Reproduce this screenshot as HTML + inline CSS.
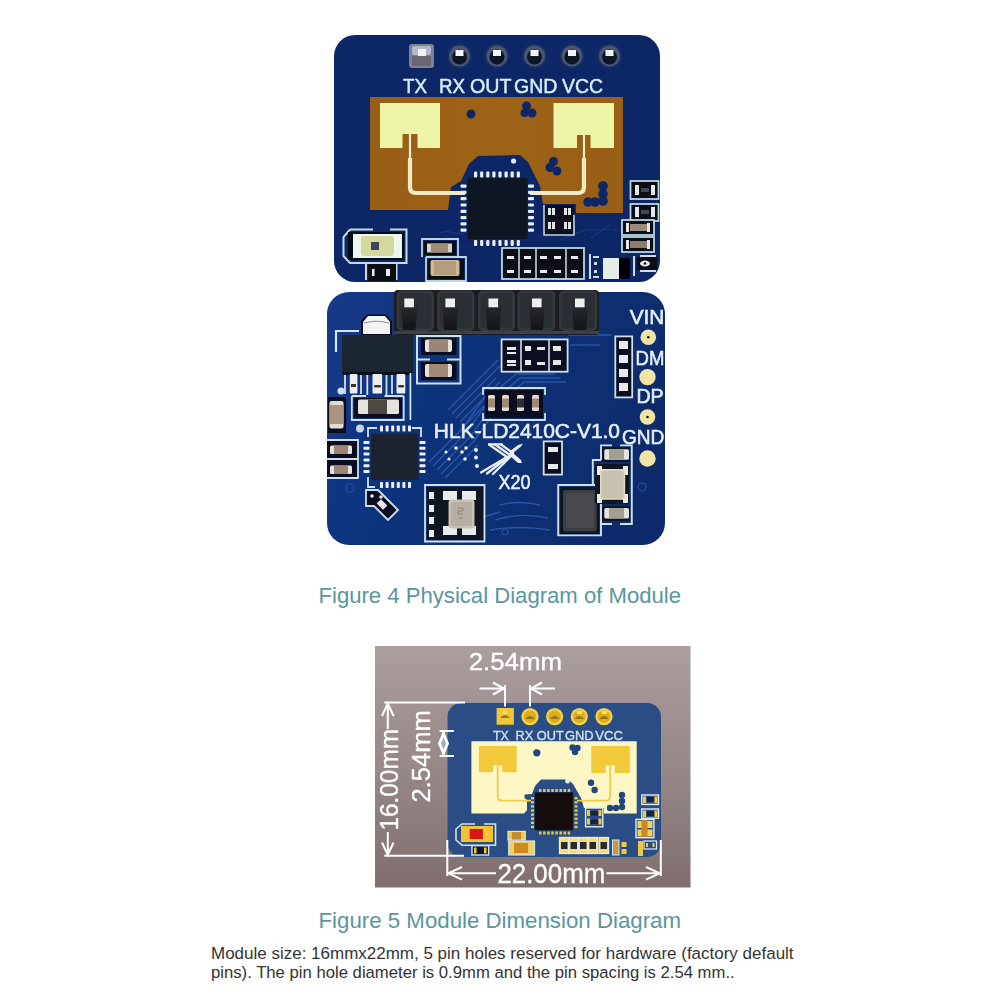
<!DOCTYPE html>
<html><head><meta charset="utf-8">
<style>
html,body{margin:0;padding:0;background:#fff;}
body{width:1002px;height:1002px;overflow:hidden;font-family:"Liberation Sans",sans-serif;}
svg{display:block;}
</style></head>
<body>
<svg width="1002" height="1002" viewBox="0 0 1002 1002" font-family="Liberation Sans, sans-serif">
<defs><filter id="soft" x="-5%" y="-5%" width="110%" height="110%"><feGaussianBlur stdDeviation="0.55"/></filter></defs>
<rect width="1002" height="1002" fill="#fff"/>
<g filter="url(#soft)">
<g id="top">
  <defs>
    <linearGradient id="gtop" x1="0" y1="0" x2="1" y2="1">
      <stop offset="0" stop-color="#0a2666"/>
      <stop offset="1" stop-color="#092565"/>
    </linearGradient>
    <linearGradient id="gor" x1="0" y1="0" x2="1" y2="0">
      <stop offset="0" stop-color="#985e14"/>
      <stop offset="0.5" stop-color="#9e6316"/>
      <stop offset="1" stop-color="#985e14"/>
    </linearGradient>
  </defs>
  <rect x="334" y="35" width="326" height="247" rx="21" fill="url(#gtop)"/>
  <!-- faint traces -->
  <g stroke="#1d3f8a" stroke-width="1.2" fill="none" opacity="0.8">
    <path d="M440,233 C450,228 458,238 466,232"/>
    <path d="M420,247 H470"/>
    <path d="M560,240 L585,230 H625"/>
    <path d="M590,238 L610,225"/>
  </g>
  <!-- header pins -->
  <g>
    <rect x="409" y="44" width="25" height="24" rx="3" fill="#7d8196"/>
    <rect x="412" y="46" width="19" height="9" rx="2" fill="#b4b8c6"/>
    <rect x="412" y="56" width="19" height="10" fill="#6d6670"/>
    <rect x="418" y="49" width="8" height="7" fill="#eef0f4"/>
    <g id="rp">
      <circle cx="459.5" cy="56" r="12.5" fill="#16306a"/>
      <circle cx="459.5" cy="56" r="10.5" fill="#4c5570"/>
      <circle cx="459.5" cy="57" r="7.5" fill="#0e1528"/>
      <rect x="455.5" y="50" width="8" height="6" fill="#f2f4f6"/>
    </g>
    <use href="#rp" x="37.5"/>
    <use href="#rp" x="75"/>
    <use href="#rp" x="112.5"/>
    <use href="#rp" x="150"/>
  </g>
  <!-- pin labels -->
  <g fill="#d6ecf3" font-size="20.5" stroke="#d6ecf3" stroke-width="0.5">
    <text x="403" y="93" textLength="24" lengthAdjust="spacingAndGlyphs">TX</text>
    <text x="439" y="93" textLength="26" lengthAdjust="spacingAndGlyphs">RX</text>
    <text x="470" y="93" textLength="41.5" lengthAdjust="spacingAndGlyphs">OUT</text>
    <text x="514" y="93" textLength="43.5" lengthAdjust="spacingAndGlyphs">GND</text>
    <text x="562" y="93" textLength="41" lengthAdjust="spacingAndGlyphs">VCC</text>
  </g>
  <!-- orange antenna region -->
  <path d="M370,97 H623 V213 H576 V204 H542 V210 H370 Z" fill="url(#gor)"/>
  <!-- blue cutout around chip -->
  <path d="M448,210 L451,187 L461,181 L469,164 L478,156 L520,155 L528,162 L535,176 L540,186 L543,204 L543,212 Z" fill="#0a2666"/>
  <!-- patch pads -->
  <path d="M380,103 H440 V148 H417.5 V134 H402.5 V148 H380 Z" fill="#eef5a6"/>
  <path d="M553.5,103 H614 V148 H590.5 V135 H577 V148 H553.5 Z" fill="#eef5a6"/>
  <!-- feed lines -->
  <g stroke="#f3eecb" stroke-width="2.2" fill="none">
    <path d="M410,134 V160"/>
    <path d="M584,135 V160"/>
  </g>
  <g stroke="#f1ebc4" stroke-width="4.2" fill="none">
    <path d="M410,158 V187 Q410,193 416,193 H465"/>
    <path d="M584,158 V187 Q584,193 578,193 H530"/>
  </g>
  <!-- vias -->
  <g fill="#0c2766">
    <circle cx="471" cy="114" r="4.5"/>
    <circle cx="526.5" cy="106" r="4.5"/><circle cx="532" cy="113" r="4.5"/><circle cx="524.5" cy="113" r="4"/>
    <circle cx="553.5" cy="161.5" r="4.5"/><circle cx="550" cy="167.5" r="4.5"/><circle cx="557" cy="171" r="4.5"/>
    <circle cx="603" cy="186" r="4.8"/><circle cx="603" cy="194" r="4.8"/><circle cx="603" cy="201" r="4.8"/><circle cx="595" cy="202" r="4.8"/><circle cx="588" cy="202" r="4.8"/>
  </g>
  <circle cx="513.6" cy="161" r="2.6" fill="#dfe8f0"/>
  <!-- main chip -->
  <rect x="467.5" y="178" width="60" height="61" fill="#0c1322"/>
  <g fill="#e8eef2">
    <g id="tp">
      <rect x="474" y="171.5" width="3.2" height="6" rx="1"/>
      <rect x="480.1" y="171.5" width="3.2" height="6" rx="1"/>
      <rect x="486.2" y="171.5" width="3.2" height="6" rx="1"/>
      <rect x="492.3" y="171.5" width="3.2" height="6" rx="1"/>
      <rect x="498.4" y="171.5" width="3.2" height="6" rx="1"/>
      <rect x="504.5" y="171.5" width="3.2" height="6" rx="1"/>
      <rect x="510.6" y="171.5" width="3.2" height="6" rx="1"/>
      <rect x="516.7" y="171.5" width="3.2" height="6" rx="1"/>
    </g>
    <use href="#tp" y="68.5"/>
    <g id="lp">
      <rect x="460.5" y="184.5" width="6" height="3.2" rx="1"/>
      <rect x="460.5" y="190.8" width="6" height="3.2" rx="1"/>
      <rect x="460.5" y="197.1" width="6" height="3.2" rx="1"/>
      <rect x="460.5" y="203.4" width="6" height="3.2" rx="1"/>
      <rect x="460.5" y="209.7" width="6" height="3.2" rx="1"/>
      <rect x="460.5" y="216" width="6" height="3.2" rx="1"/>
      <rect x="460.5" y="222.3" width="6" height="3.2" rx="1"/>
      <rect x="460.5" y="228.6" width="6" height="3.2" rx="1"/>
    </g>
    <use href="#lp" x="67.5"/>
  </g>
  <!-- small 4-pad chip under orange notch -->
  <rect x="544" y="205" width="30" height="30" fill="#070c1a"/>
  <path d="M544,205 V235 H574 V215" stroke="#bcd6e2" stroke-width="1.6" fill="none"/>
  <g fill="#dfe6ea">
    <rect x="548" y="208" width="3" height="7"/><rect x="552" y="208" width="3" height="7"/>
    <rect x="564" y="208" width="3" height="7"/><rect x="568" y="208" width="3" height="7"/>
    <rect x="548" y="222" width="3" height="7"/><rect x="552" y="222" width="3" height="7"/>
    <rect x="564" y="222" width="3" height="7"/><rect x="568" y="222" width="3" height="7"/>
  </g>
  <!-- LED -->
  <path d="M350,229.5 H373 M390,229.5 H406.5 V263 H350 L343.5,256 V237 L350,229.5 M366,263 V280 M396.5,263 V280" stroke="#c7dbe6" stroke-width="2" fill="none"/>
  <rect x="368" y="264" width="28" height="17" fill="#070b18"/>
  <rect x="372" y="269" width="2.5" height="7" fill="#e6ecef"/><rect x="386" y="269" width="4" height="7" fill="#e6ecef"/>
  <rect x="348" y="232" width="56" height="28" fill="#050816"/>
  <rect x="353" y="234" width="49" height="24" fill="#eef4ee"/>
  <rect x="361" y="236" width="33" height="20" rx="3" fill="#d4d79e"/>
  <rect x="371" y="242" width="8" height="8" fill="#3b4656"/>
  <!-- caps bottom-middle -->
  <path d="M422,257 V239 H458 V257 M426,257 V281 H466 V257 H426" stroke="#bcd6e2" stroke-width="1.8" fill="none"/>
  <rect x="424" y="241" width="32" height="14" fill="#070b18"/>
  <rect x="427" y="243.5" width="25" height="9" fill="#d8d4c8"/>
  <rect x="431" y="243.5" width="17" height="9" fill="#a08a78"/>
  <rect x="428" y="259" width="36" height="20" fill="#070b18"/>
  <rect x="430.5" y="260" width="29" height="16" rx="2" fill="#cdb79c"/>
  <rect x="434" y="261" width="22" height="14" fill="#b39b7e"/>
  <!-- bottom row component group -->
  <rect x="502" y="248" width="82" height="31" fill="#070b18" stroke="#bcd6e2" stroke-width="1.8"/>
  <path d="M519,248 V279 M536,248 V279 M566,248 V279" stroke="#bcd6e2" stroke-width="1.6"/>
  <g fill="#e6ecef">
    <rect x="507" y="256" width="7" height="3"/><rect x="507" y="270" width="7" height="3"/>
    <rect x="524" y="256" width="7" height="3"/><rect x="524" y="270" width="7" height="3"/>
    <rect x="540" y="256" width="7" height="3"/><rect x="540" y="270" width="7" height="3"/>
    <rect x="554" y="256" width="7" height="3"/><rect x="554" y="270" width="7" height="3"/>
    <rect x="571" y="256" width="7" height="3"/><rect x="571" y="270" width="7" height="3"/>
  </g>
  <!-- right side components -->
  <g stroke="#bcd6e2" stroke-width="1.8" fill="#070b18">
    <rect x="630.5" y="181" width="28" height="18"/>
    <rect x="630.5" y="204" width="28" height="17"/>
    <rect x="622" y="220" width="32" height="15"/>
    <rect x="622" y="237" width="32" height="15"/>
  </g>
  <g fill="#e2e8ec">
    <rect x="635" y="185" width="4" height="10"/><rect x="651" y="185" width="4" height="10"/>
    <rect x="635" y="207" width="4" height="10"/><rect x="651" y="207" width="4" height="10"/>
    <rect x="626" y="223" width="3" height="9"/><rect x="647" y="223" width="3" height="9"/>
    <rect x="626" y="240" width="3" height="9"/><rect x="647" y="240" width="3" height="9"/>
  </g>
  <rect x="630" y="224" width="17" height="7" fill="#9f8c78"/>
  <rect x="630" y="241" width="17" height="7" fill="#8f7d6c"/>
  <rect x="641" y="188" width="8" height="4" fill="#3a4a5a"/>
  <rect x="641" y="210" width="8" height="4" fill="#3a4a5a"/>
  <!-- bottom right -->
  <rect x="603" y="258" width="16" height="21" fill="#e4ede8"/>
  <rect x="619" y="258" width="11" height="21" fill="#04060e"/>
  <g fill="#cfdde6">
    <rect x="589" y="254" width="2" height="25"/>
    <rect x="593" y="256" width="6" height="2"/><rect x="593" y="276" width="6" height="2"/>
    <rect x="594" y="262" width="3" height="3"/><rect x="594" y="270" width="3" height="3"/>
    <rect x="633" y="256" width="2" height="20"/>
    <rect x="640" y="255" width="16" height="2"/><rect x="640" y="270" width="16" height="2"/>
  </g>
  <rect x="637" y="257" width="20" height="13" fill="#070b18"/>
  <ellipse cx="645" cy="263.5" rx="5" ry="3" fill="#e6ecef"/>
  <circle cx="645" cy="263.5" r="1.3" fill="#0a0f1e"/>
</g>

<g id="bot">
  <defs>
    <linearGradient id="gbot" x1="0" y1="0" x2="1" y2="0.3">
      <stop offset="0" stop-color="#13398a"/>
      <stop offset="0.5" stop-color="#0f3279"/>
      <stop offset="1" stop-color="#0c2c6c"/>
    </linearGradient>
  </defs>
  <rect x="327" y="292" width="338" height="253" rx="22" fill="url(#gbot)"/>
  <!-- traces -->
  <g stroke="#2d5cb0" stroke-width="1.3" fill="none" opacity="0.9">
    <path d="M437,470 L470,437 L500,395 L520,378 L560,378"/>
    <path d="M441,474 L474,441 L504,399 L524,382 L566,382"/>
    <path d="M433,466 L466,433 L496,391 L516,374 L555,374"/>
    <path d="M445,478 L478,445"/>
    <path d="M429,462 L462,429 L492,387"/>
    <path d="M448,410 L488,370 L498,360"/>
    <path d="M452,414 L492,374 L502,364"/>
    <path d="M456,418 L496,378"/>
    <path d="M460,422 L500,382"/>
    <path d="M464,426 L484,406"/>
    <path d="M570,345 L600,345"/>
    <path d="M568,335 L612,335"/>
    <path d="M432,536 Q470,520 500,512"/>
    <path d="M500,505 Q520,500 540,505"/>
    <path d="M495,520 Q520,512 548,518"/>
    <path d="M490,530 Q520,525 550,530"/>
  </g>
  <g stroke="#2d5cb0" stroke-width="1.2" fill="none" opacity="0.7">
    <circle cx="642" cy="487" r="4"/>
    <circle cx="350" cy="488" r="4"/>
    <circle cx="505" cy="532" r="3"/>
  </g>
  <!-- header -->
  <defs>
    <linearGradient id="ghd" x1="0" y1="0" x2="0" y2="1">
      <stop offset="0" stop-color="#111215" stop-opacity="0.2"/>
      <stop offset="1" stop-color="#111215" stop-opacity="0.95"/>
    </linearGradient>
  </defs>
  <rect x="394" y="290" width="205" height="45" rx="4" fill="#1a1c20"/>
  <rect x="396.6" y="290.5" width="37.4" height="40.5" rx="5" fill="#34373c"/>
  <rect x="399.1" y="293" width="32.4" height="35.5" rx="4" fill="#2c2f34"/>
  <path d="M401.3,307 H417.3 L415.3,330 H403.3 Z" fill="url(#ghd)"/>
  <rect x="404.3" y="298.5" width="9.6" height="8.8" fill="#eceef0"/>
  <rect x="437.2" y="290.5" width="37.3" height="40.5" rx="5" fill="#34373c"/>
  <rect x="439.7" y="293" width="32.3" height="35.5" rx="4" fill="#2c2f34"/>
  <path d="M442.4,307 H458.4 L456.4,330 H444.4 Z" fill="url(#ghd)"/>
  <rect x="445.4" y="298.5" width="9.6" height="8.8" fill="#eceef0"/>
  <rect x="478" y="290.5" width="37.0" height="40.5" rx="5" fill="#34373c"/>
  <rect x="480.5" y="293" width="32.0" height="35.5" rx="4" fill="#2c2f34"/>
  <path d="M485.5,307 H501.5 L499.5,330 H487.5 Z" fill="url(#ghd)"/>
  <rect x="488.5" y="298.5" width="9.6" height="8.8" fill="#eceef0"/>
  <rect x="517.5" y="290.5" width="37.8" height="40.5" rx="5" fill="#34373c"/>
  <rect x="520.0" y="293" width="32.8" height="35.5" rx="4" fill="#2c2f34"/>
  <path d="M529,307 H545 L543,330 H531 Z" fill="url(#ghd)"/>
  <rect x="532" y="298.5" width="9.6" height="8.8" fill="#eceef0"/>
  <rect x="558.9" y="290.5" width="38.3" height="40.5" rx="5" fill="#34373c"/>
  <rect x="561.4" y="293" width="33.3" height="35.5" rx="4" fill="#2c2f34"/>
  <path d="M572,307 H588 L586,330 H574 Z" fill="url(#ghd)"/>
  <rect x="575" y="298.5" width="9.6" height="8.8" fill="#eceef0"/>
  <rect x="394" y="331" width="205" height="3" fill="#3c3f44"/>
  <!-- regulator -->
  <path d="M336,352 V331 H359" stroke="#d2e4ec" stroke-width="2.2" fill="none"/>
  <path d="M361,335 V321 L367,314.5 H386 L392,321 V335 Z" fill="#0a0f1c"/>
  <path d="M363,334 V322 L368,316 H385 L390,322 V334 Z" fill="#f4f4f4"/>
  <path d="M364,323 Q376,319.5 389,323" stroke="#9a928e" stroke-width="1.2" fill="none"/>
  <rect x="342" y="335" width="71" height="38" fill="#1e2630"/>
  <rect x="343" y="372" width="69" height="3" fill="#0a0f1c"/>
  <g fill="#eceef0">
    <rect x="349.8" y="374" width="7.6" height="19.5" rx="1"/>
    <rect x="372.5" y="374" width="9.6" height="19.5" rx="1"/>
    <rect x="396.5" y="374" width="8.8" height="19.5" rx="1"/>
  </g>
  <g fill="#3a3430">
    <rect x="351" y="384" width="5" height="3"/>
    <rect x="374" y="385" width="7" height="2.5" rx="1"/>
    <rect x="398" y="385" width="6" height="2.5" rx="1"/>
  </g>
  <path d="M345,375 V394 M361,375 V394 M367.3,375 V395 M386.5,375 V395 M392,375 V394 M410.4,373 V420" stroke="#d2e2ea" stroke-width="1.8"/>
  <!-- caps right of regulator -->
  <rect x="417" y="336" width="43.5" height="47.5" fill="none" stroke="#cfe0ea" stroke-width="2"/>
  <rect x="421" y="338" width="35.5" height="17" fill="#0a1022"/>
  <rect x="421" y="362" width="35.5" height="18" fill="#0a1022"/>
  <path d="M417,359.5 H430 M447,359.5 H460.5" stroke="#cfe0ea" stroke-width="2"/>
  <rect x="425" y="339.5" width="27" height="12.5" rx="2" fill="#e6e2da"/>
  <rect x="429" y="339.5" width="19" height="12.5" fill="#9a8676"/>
  <rect x="425" y="364" width="27" height="13" rx="2" fill="#e6e2da"/>
  <rect x="429" y="364" width="19" height="13" fill="#a08a76"/>
  <!-- component under regulator -->
  <path d="M351.8,396 V420 H403.7 V396 M351.8,396 H366 M384.5,396 H403.7" fill="none" stroke="#cfe0ea" stroke-width="1.8"/>
  <rect x="354" y="398" width="48" height="20" fill="#0a1022"/>
  <rect x="358" y="399.5" width="41" height="14.5" rx="1.5" fill="#e4e2dc"/>
  <rect x="368" y="399.5" width="19" height="14.5" fill="#4e4842"/>
  <!-- left vertical cap -->
  <rect x="328" y="397" width="18" height="36" fill="#0a1022"/>
  <rect x="329.5" y="401" width="14" height="27.5" rx="2" fill="#e2ddd4"/>
  <rect x="329.5" y="405" width="14" height="19" fill="#a89480"/>
  <circle cx="341" cy="391" r="3.5" fill="#d6e0e8"/>
  <circle cx="360" cy="428.5" r="4" fill="#c8d6e0"/>
  <!-- left resistors -->
  <path d="M327,440 H358 V478 H327" fill="#0a1022" stroke="#cfe0ea" stroke-width="1.8"/>
  <rect x="330" y="445.5" width="22" height="8.5" rx="1.5" fill="#e2e2e0"/>
  <rect x="334" y="445.5" width="14" height="8.5" fill="#9c8672"/>
  <rect x="330" y="465.5" width="22" height="8.5" rx="1.5" fill="#e2e2e0"/>
  <rect x="334" y="465.5" width="14" height="8.5" fill="#9c8672"/>
  <rect x="327" y="458" width="31" height="2" fill="#cfe0ea"/>
  <!-- MCU -->
  <path d="M368,437 V428 H377 M412,428 H421 V437 M368,477 V487 H375" stroke="#cfe0ea" stroke-width="1.8" fill="none"/>
  <rect x="370.8" y="433.6" width="47.5" height="46.5" fill="#1b232e"/>
  <g fill="#eef0f2">
    <g id="mt">
      <rect x="380" y="425.5" width="3" height="6" rx="0.8"/>
      <rect x="385.6" y="425.5" width="3" height="6" rx="0.8"/>
      <rect x="391.2" y="425.5" width="3" height="6" rx="0.8"/>
      <rect x="396.8" y="425.5" width="3" height="6" rx="0.8"/>
      <rect x="402.4" y="425.5" width="3" height="6" rx="0.8"/>
      <rect x="408" y="425.5" width="3" height="6" rx="0.8"/>
    </g>
    <use href="#mt" y="56.5"/>
    <g id="ml">
      <rect x="363.5" y="441" width="6" height="3" rx="0.8"/>
      <rect x="363.5" y="446.8" width="6" height="3" rx="0.8"/>
      <rect x="363.5" y="452.6" width="6" height="3" rx="0.8"/>
      <rect x="363.5" y="458.4" width="6" height="3" rx="0.8"/>
      <rect x="363.5" y="464.2" width="6" height="3" rx="0.8"/>
      <rect x="363.5" y="470" width="6" height="3" rx="0.8"/>
    </g>
    <use href="#ml" x="56"/>
  </g>
  <!-- diag component below MCU -->
  <path d="M366,490 H378 L384,496 L398,510 L388,520 L374,506 H366 Z" fill="#0a1022" stroke="#cfe0ea" stroke-width="1.8"/>
  <rect x="379" y="500" width="6" height="9" fill="#e6e8ea" transform="rotate(-45 382 504.5)"/>
  <circle cx="372" cy="496" r="1.8" fill="#e6e8ea"/>
  <circle cx="381" cy="497" r="1.8" fill="#e6e8ea"/>
  <!-- crystal bottom-middle -->
  <path d="M425,485 H484.5 V541.5 H425 Z" fill="none" stroke="#cfe0ea" stroke-width="1.8"/>
  <rect x="427" y="487" width="56" height="53" fill="#0b1224"/>
  <g fill="#e8eaec">
    <rect x="443" y="491" width="14" height="9"/><rect x="462" y="491" width="14" height="9"/>
    <rect x="443" y="526" width="14" height="9"/><rect x="462" y="526" width="14" height="9"/>
    <rect x="429" y="492" width="5" height="7"/><rect x="429" y="505" width="5" height="7"/>
    <rect x="429" y="517" width="5" height="7"/><rect x="429" y="530" width="5" height="7"/>
  </g>
  <rect x="448.5" y="499.5" width="26" height="29" rx="3" fill="#c9c2b6"/>
  <rect x="451" y="502" width="21" height="24" rx="2" fill="#b7afa2"/>
  <path d="M458,508 h5 v3 h-5 v3 h5 M458,518 h5" stroke="#8c8478" stroke-width="1" fill="none"/>
  <!-- 3-part box top-mid -->
  <rect x="501.6" y="339.4" width="66" height="32.3" fill="#0a1022" stroke="#cfe0ea" stroke-width="1.8"/>
  <path d="M521,339.4 V371.7 M549,339.4 V371.7" stroke="#cfe0ea" stroke-width="1.6"/>
  <g fill="#e4e8ea">
    <rect x="507" y="347" width="9" height="3"/><rect x="507" y="352" width="9" height="2"/>
    <rect x="507" y="360" width="9" height="3"/><rect x="507" y="364" width="9" height="2"/>
    <rect x="525" y="346" width="6" height="5"/><rect x="525" y="360" width="6" height="5"/>
    <rect x="537" y="347" width="8" height="3"/><rect x="537" y="362" width="8" height="3"/>
    <rect x="553" y="346" width="8" height="5"/><rect x="553" y="360" width="8" height="5"/>
  </g>
  <!-- resistor array -->
  <path d="M483,395 V388 H545 V395 M483,413 V420 H545 V413" fill="none" stroke="#cfe0ea" stroke-width="1.8"/>
  <rect x="485" y="390" width="58" height="28" fill="#0a1022"/>
  <g fill="#e2dcd2">
    <rect x="488" y="395" width="7" height="16" rx="1.5"/>
    <rect x="502" y="395" width="7" height="16" rx="1.5"/>
    <rect x="517" y="395" width="7" height="16" rx="1.5"/>
    <rect x="532" y="395" width="7" height="16" rx="1.5"/>
  </g>
  <g fill="#a08a74">
    <rect x="488" y="398.5" width="7" height="9"/>
    <rect x="502" y="398.5" width="7" height="9"/>
    <rect x="517" y="398.5" width="7" height="9" fill="#2a3038"/>
    <rect x="532" y="398.5" width="7" height="9"/>
  </g>
  <!-- right vertical 4-pad box -->
  <rect x="615.3" y="336.4" width="16.9" height="61" fill="#0a1022" stroke="#cfe0ea" stroke-width="1.8"/>
  <g fill="#e6eaec">
    <rect x="619" y="341" width="9" height="8"/>
    <rect x="619" y="355" width="9" height="8"/>
    <rect x="619" y="369" width="9" height="8"/>
    <rect x="619" y="383" width="9" height="8"/>
  </g>
  <!-- pads right -->
  <g fill="#f2e4a4">
    <circle cx="648.3" cy="337.3" r="7.8"/>
    <circle cx="647.5" cy="377.1" r="8.2"/>
    <circle cx="647.5" cy="417" r="7.8"/>
    <circle cx="647.5" cy="458.5" r="8.2"/>
  </g>
  <circle cx="648.3" cy="337.3" r="1.3" fill="#1a1a1a"/>
  <circle cx="647.5" cy="417" r="1.3" fill="#1a1a1a"/>
  <!-- labels -->
  <g fill="#e4eef4" font-size="20.5" stroke="#e4eef4" stroke-width="0.6">
    <text x="629.7" y="323.7" textLength="34.7" lengthAdjust="spacingAndGlyphs">VIN</text>
    <text x="635.6" y="365.3" textLength="28.8" lengthAdjust="spacingAndGlyphs">DM</text>
    <text x="636.4" y="403.4" textLength="27.2" lengthAdjust="spacingAndGlyphs">DP</text>
    <text x="622" y="443.5" textLength="42.4" lengthAdjust="spacingAndGlyphs">GND</text>
    <text x="433.8" y="438" textLength="186.2" lengthAdjust="spacingAndGlyphs">HLK-LD2410C-V1.0</text>
    <text x="498.5" y="488.8" font-size="19.5" textLength="32" lengthAdjust="spacingAndGlyphs">X20</text>
  </g>
  <!-- small vertical comp -->
  <rect x="543.7" y="441.4" width="18.3" height="33.2" fill="#0a1022" stroke="#cfe0ea" stroke-width="1.8"/>
  <rect x="548" y="447" width="10" height="5" fill="#e6eaec"/>
  <rect x="548" y="464" width="10" height="5" fill="#e6eaec"/>
  <!-- X logo -->
  <g stroke="#e8eef2" stroke-width="2.3" fill="none" stroke-linecap="round" stroke-linejoin="round">
    <path d="M489,444.3 H502"/>
    <path d="M489,444.5 L507,457"/>
    <path d="M495,444.5 L510,455"/>
    <path d="M501,444.5 L513,453"/>
    <path d="M481,472.5 L507,457"/>
    <path d="M487,473.5 L510,455.5"/>
    <path d="M493,474 L513,454"/>
  </g>
  <path d="M523,443.5 L521,446.5 L513,453 L521,460 L522,463 L518,463 L509.5,455.5 L509.5,451.5 L518,445 Z" fill="#e8eef2"/>
  <g fill="#e6ecf0">
    <circle cx="476" cy="450" r="2"/><circle cx="476" cy="457.5" r="2"/><circle cx="477" cy="466" r="2"/>
    <circle cx="456" cy="448" r="1.8"/><circle cx="462" cy="452" r="1.8"/><circle cx="466" cy="448" r="1.8"/><circle cx="465" cy="459" r="1.8"/>
    <circle cx="446" cy="452" r="1.6"/><circle cx="449" cy="459" r="1.6"/>
  </g>
  <!-- inductor -->
  <path d="M558.2,485 H601 V535.4 H558.2 Z" fill="none" stroke="#cfe0ea" stroke-width="1.9"/>
  <rect x="560" y="487" width="39" height="47" fill="#0b1224"/>
  <rect x="563" y="490" width="33.7" height="41.6" rx="2.5" fill="#3b3e44"/>
  <rect x="566" y="493" width="28" height="35" rx="2" fill="#464a50"/>
  <!-- crystal right -->
  <path d="M601,460 V445.4 H612 M620,445.4 H631.8 V524 H620 M612,524 H601 V506 M601,460 H592.8 V484.4" fill="none" stroke="#cfe0ea" stroke-width="1.9"/>
  <rect x="602" y="447" width="28" height="15" fill="#0b1224"/>
  <rect x="595" y="464" width="34" height="40" fill="#0b1224"/>
  <rect x="602" y="506" width="28" height="15" fill="#0b1224"/>
  <rect x="604.3" y="449.3" width="24.7" height="10.4" rx="1.5" fill="#e4e4e0"/>
  <rect x="609" y="449.3" width="15" height="10.4" fill="#a49e94"/>
  <rect x="604.3" y="508" width="24.7" height="10.4" rx="1.5" fill="#e4e4e0"/>
  <rect x="609" y="508" width="15" height="10.4" fill="#a49e94"/>
  <g fill="#e8eaec"><rect x="597" y="466" width="5" height="9"/><rect x="623" y="466" width="5" height="9"/><rect x="597" y="494" width="5" height="9"/><rect x="623" y="494" width="5" height="9"/></g>
  <rect x="600" y="469" width="25.2" height="30.8" rx="2.5" fill="#e6dcbc"/>
  <rect x="601.5" y="470.5" width="22.2" height="27.8" rx="2" fill="#c8c0b0"/>
</g>

</g>
<text x="318.5" y="602.5" font-size="22" fill="#5a969c" textLength="362.5" lengthAdjust="spacingAndGlyphs">Figure 4 Physical Diagram of Module</text>
<g filter="url(#soft)">
<g id="dim">
  <defs>
  <linearGradient id="gbg" x1="0" y1="0" x2="0" y2="1">
    <stop offset="0" stop-color="#aa9e9e"/>
    <stop offset="0.5" stop-color="#988888"/>
    <stop offset="1" stop-color="#806e6e"/>
  </linearGradient>
  </defs>
  <rect x="375" y="646" width="315.5" height="241.5" fill="url(#gbg)"/>
  <!-- board -->
  <rect x="447.5" y="703" width="213.5" height="154" rx="14" fill="#2c4e85"/>
  <!-- pins -->
  <rect x="496.6" y="708" width="17.3" height="16.7" fill="#f0c834"/>
  <g id="dp">
    <circle cx="530" cy="716.6" r="8.6" fill="#f4d24a"/>
    <circle cx="530" cy="716.6" r="6.3" fill="#e0ac1a"/>
  </g>
  <use href="#dp" x="24.6"/>
  <use href="#dp" x="49.3"/>
  <use href="#dp" x="74"/>
  <g fill="#7c6a30" opacity="0.8">
    <path d="M500,718 Q505,712 510,718 Z"/>
    <path d="M525,719 Q530,713 535,719 Z"/>
    <path d="M549.6,719 Q554.6,713 559.6,719 Z"/>
    <path d="M574.3,719 Q579.3,713 584.3,719 Z"/>
    <path d="M599,719 Q604,713 609,719 Z"/>
  </g>
  <g fill="#f8e070">
    <rect x="503" y="711" width="4" height="3"/>
    <rect x="577" y="711" width="5" height="3"/>
    <rect x="602" y="711" width="5" height="3"/>
  </g>
  <!-- labels -->
  <g fill="#d6e2ee" font-size="13.2" stroke="#d6e2ee" stroke-width="0.3">
    <text x="493" y="739.6" textLength="15.7" lengthAdjust="spacingAndGlyphs">TX</text>
    <text x="515.6" y="739.6" textLength="17.8" lengthAdjust="spacingAndGlyphs">RX</text>
    <text x="536.8" y="739.6" textLength="27" lengthAdjust="spacingAndGlyphs">OUT</text>
    <text x="565" y="739.6" textLength="28.6" lengthAdjust="spacingAndGlyphs">GND</text>
    <text x="595.3" y="739.6" textLength="27.6" lengthAdjust="spacingAndGlyphs">VCC</text>
  </g>
  <!-- cream antenna area -->
  <path d="M471.4,741.3 H636.7 V813.6 H471.4 Z" fill="#fdf7c6"/>
  <path d="M524,813.6 L527,810 V800 L524.5,798 V794.5 L532,794 L535,786 L541,779.5 H568 L573,784 L577,791 L581,798 L584,808 H604 V814 H524 Z" fill="#2c4e85"/>
  <!-- patch pads -->
  <path d="M478.9,746 H516.7 V772.3 H502.4 V765.4 H493 V772.3 H478.9 Z" fill="#f1c93a"/>
  <path d="M591.3,746 H629.8 V772.9 H614.8 V765.4 H605.7 V772.9 H591.3 Z" fill="#f1c93a"/>
  <g stroke="#efcb48" stroke-width="1.8" fill="none">
    <path d="M497.7,765.4 V796 Q497.7,800.7 502,800.7 H531"/>
    <path d="M610.2,765.4 V796 Q610.2,800.7 606,800.7 H577"/>
  </g>
  <!-- vias -->
  <g fill="#23457e">
    <circle cx="536.8" cy="752.8" r="3.6"/>
    <circle cx="572.5" cy="747.5" r="3.2"/><circle cx="577.5" cy="748" r="3.2"/><circle cx="575" cy="752" r="3.2"/>
    <circle cx="591" cy="782.8" r="3.2"/><circle cx="594.6" cy="790" r="3.2"/>
    <circle cx="622" cy="795" r="3.2"/><circle cx="622" cy="801" r="3.2"/><circle cx="622" cy="807" r="3.2"/>
    <circle cx="616" cy="808" r="3.2"/><circle cx="610" cy="808" r="3.2"/>
  </g>
  <!-- chip -->
  <rect x="534.8" y="792.4" width="38.3" height="37.9" fill="#120e10"/>
  <g fill="#e8c83a">
    <g id="dtp">
      <rect x="539" y="789" width="2.4" height="3"/><rect x="543.1" y="789" width="2.4" height="3"/>
      <rect x="547.2" y="789" width="2.4" height="3"/><rect x="551.3" y="789" width="2.4" height="3"/>
      <rect x="555.4" y="789" width="2.4" height="3"/><rect x="559.5" y="789" width="2.4" height="3"/>
      <rect x="563.6" y="789" width="2.4" height="3"/><rect x="567.7" y="789" width="2.4" height="3"/>
    </g>
    <use href="#dtp" y="42.5"/>
    <g id="dlp">
      <rect x="531" y="797" width="3" height="2.4"/><rect x="531" y="801.1" width="3" height="2.4"/>
      <rect x="531" y="805.2" width="3" height="2.4"/><rect x="531" y="809.3" width="3" height="2.4"/>
      <rect x="531" y="813.4" width="3" height="2.4"/><rect x="531" y="817.5" width="3" height="2.4"/>
      <rect x="531" y="821.6" width="3" height="2.4"/><rect x="531" y="825.7" width="3" height="2.4"/>
    </g>
    <use href="#dlp" x="43.5"/>
  </g>
  <circle cx="567.5" cy="781.2" r="2.4" fill="#e8f0f4"/>
  <!-- LED -->
  <path d="M475,824 H462 L456,829 V840 L462,845.2 H495.5 V824 H484" fill="none" stroke="#d4e2ee" stroke-width="1.6"/>
  <rect x="461" y="826" width="32" height="16" fill="#f2c232"/>
  <rect x="469.7" y="829" width="13.2" height="10" fill="#d81818"/>
  <rect x="472" y="845.7" width="16.6" height="9.3" fill="#10182a" stroke="#d4e2ee" stroke-width="1.4"/>
  <rect x="474" y="847.5" width="2.5" height="6" fill="#f0c840"/><rect x="484" y="847.5" width="2.5" height="6" fill="#f0c840"/>
  <!-- caps -->
  <rect x="508" y="831.4" width="17.3" height="8.6" fill="#f0c850" stroke="#d4e2ee" stroke-width="1.2"/>
  <rect x="512" y="832" width="9" height="7.5" fill="#c88a28"/>
  <rect x="508.7" y="841" width="25.8" height="14" fill="#f0d060" stroke="#d4e2ee" stroke-width="1.2"/>
  <rect x="514" y="843" width="14" height="10" fill="#d08820"/>
  <!-- small comp next to chip -->
  <rect x="585.6" y="808" width="17.2" height="18.8" fill="#2c4e85" stroke="#e2ecf2" stroke-width="1.4"/>
  <g fill="#f0c840"><rect x="587" y="810" width="3" height="6"/><rect x="598.5" y="810" width="3" height="6"/><rect x="587" y="818.5" width="3" height="6"/><rect x="598.5" y="818.5" width="3" height="6"/></g>
  <rect x="590.5" y="811" width="7.5" height="4.5" fill="#1c2230"/>
  <rect x="590.5" y="819.5" width="7.5" height="4.5" fill="#1c2230"/>
  <!-- right comps -->
  <g stroke="#e2ecf2" stroke-width="1.4" fill="#2c4e85">
    <rect x="641.8" y="795" width="16.7" height="9.4"/>
    <rect x="641.8" y="809" width="16.7" height="9.2"/>
    <rect x="636" y="819.4" width="17.9" height="18.3"/>
  </g>
  <g fill="#f0c840">
    <rect x="643" y="796.5" width="3" height="6.5"/><rect x="654.5" y="796.5" width="3" height="6.5"/>
    <rect x="643" y="810.5" width="3" height="6.5"/><rect x="654.5" y="810.5" width="3" height="6.5"/>
    <rect x="637.5" y="821" width="15" height="7" fill="#f4d060"/>
    <rect x="637.5" y="829.5" width="15" height="7" fill="#f4d060"/>
  </g>
  <rect x="647" y="797" width="7" height="5" fill="#1c2230"/>
  <rect x="647" y="811" width="7" height="5" fill="#1c2230"/>
  <rect x="641.5" y="820" width="6" height="17" fill="#c88a20"/>
  <!-- bottom row 5 comps -->
  <g stroke="#e2ecf2" stroke-width="1.3" fill="#f4dc78">
    <rect x="559.5" y="837.5" width="9.5" height="16"/>
    <rect x="569" y="837.5" width="9.5" height="16"/>
    <rect x="578.5" y="837.5" width="9.5" height="16"/>
    <rect x="588" y="837.5" width="9.5" height="16"/>
    <rect x="599" y="837.5" width="9.5" height="16"/>
  </g>
  <g fill="#2a2a30">
    <rect x="561" y="842" width="6.5" height="7"/><rect x="570.5" y="842" width="6.5" height="7"/>
    <rect x="580" y="842" width="6.5" height="7"/><rect x="589.5" y="842" width="6.5" height="7"/>
    <rect x="600.5" y="842" width="6.5" height="7"/>
  </g>
  <!-- bottom right comps -->
  <rect x="612.5" y="840" width="6.5" height="15" fill="#c89840" stroke="#d4e2ee" stroke-width="1"/>
  <g fill="#f0c840">
    <rect x="621.5" y="842" width="5" height="5"/><rect x="621.5" y="849" width="5" height="5"/>
    <rect x="638" y="841" width="5" height="15"/>
  </g>
  <rect x="644" y="841" width="12.5" height="8" fill="#2c4e85" stroke="#e2ecf2" stroke-width="1.2"/>
  <rect x="646" y="843" width="2" height="4" fill="#f0c840"/><rect x="652.5" y="843" width="2" height="4" fill="#f0c840"/>

  <!-- dimension graphics -->
  <g stroke="#ffffff" stroke-width="2" fill="none" stroke-linecap="butt">
    <!-- top 2.54 -->
    <path d="M479.5,688.5 H504"/>
    <path d="M493,682.5 L504,688.5 L493,694.5"/>
    <path d="M505,685 V706.5"/>
    <path d="M530,685 V706.5"/>
    <path d="M531,688.5 H555"/>
    <path d="M542,682.5 L531,688.5 L542,694.5"/>
    <!-- left extension lines -->
    <path d="M384.3,702.5 H465"/>
    <path d="M384.3,855.8 H464"/>
    <!-- 16.00 vertical -->
    <path d="M387.8,703.5 V729"/>
    <path d="M382,716 L387.8,703.5 L393.6,716"/>
    <path d="M387.8,832 V854.8"/>
    <path d="M382,842.5 L387.8,854.8 L393.6,842.5"/>
    <!-- small 2.54 marker -->
    <path d="M439.6,731 H454 M439.6,755.9 H454 M443.5,731 V756"/>
    <path d="M443.5,733 L439,743.5 L443.5,754 L448,743.5 Z" fill="#ffffff"/>
    <!-- bottom 22.00 -->
    <path d="M447.3,840 V876 M660.8,840 V876"/>
    <path d="M448,873.3 H496 M606.4,873.3 H660"/>
    <path d="M462,867 L448.3,873.3 L462,879.6"/>
    <path d="M646,867 L659.7,873.3 L646,879.6"/>
  </g>
  <path d="M441,743.5 L443.5,737 L446,743.5 L443.5,750 Z" fill="#a0b0c0"/>
  <g fill="#ffffff" stroke="#ffffff" stroke-width="0.35">
    <text x="468.7" y="669.6" font-size="23.6" textLength="93.3" lengthAdjust="spacingAndGlyphs">2.54mm</text>
    <text x="497.4" y="882.5" font-size="27" textLength="107.9" lengthAdjust="spacingAndGlyphs">22.00mm</text>
    <text transform="translate(397.9,830.6) rotate(-90)" font-size="26" textLength="101.6" lengthAdjust="spacingAndGlyphs">16.00mm</text>
    <text transform="translate(430,802.6) rotate(-90)" font-size="26" textLength="92.3" lengthAdjust="spacingAndGlyphs">2.54mm</text>
  </g>
</g>

</g>
<text x="318.5" y="927.5" font-size="22" fill="#5a969c" textLength="362.5" lengthAdjust="spacingAndGlyphs">Figure 5 Module Dimension Diagram</text>
<text x="211" y="959" font-size="16.3" fill="#333" textLength="582.6" lengthAdjust="spacingAndGlyphs">Module size: 16mmx22mm, 5 pin holes reserved for hardware (factory default</text>
<text x="211" y="978" font-size="16.3" fill="#333" textLength="523.7" lengthAdjust="spacingAndGlyphs">pins). The pin hole diameter is 0.9mm and the pin spacing is 2.54 mm..</text>
</svg>
</body></html>
